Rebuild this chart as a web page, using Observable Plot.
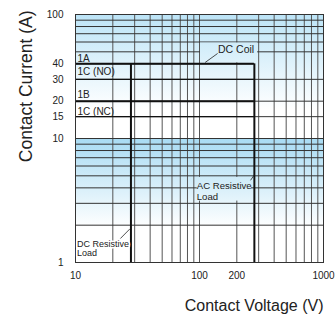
<!DOCTYPE html>
<html>
<head>
<meta charset="utf-8">
<script src="https://cdn.jsdelivr.net/npm/d3@7"></script>
<script src="https://cdn.jsdelivr.net/npm/@observablehq/plot@0.6"></script>
<style>
  html, body { margin: 0; padding: 0; background: #fff; }
</style>
</head>
<body>
<div id="chart"></div>
<script>
// ---- data ----
const xGrid = [10, 20, 30, 40, 50, 60, 70, 80, 90, 100, 200, 300, 400, 500, 600, 700, 800, 900, 1000];
const yGridFull = [100, 90, 80, 70, 60, 50, 30, 20, 15, 10, 9, 8, 7, 6, 5, 4, 3, 2, 1];
const yGridToAC = [40];
const xTicks = [10, 100, 200, 1000];
const yTicks = [1, 10, 15, 20, 30, 40, 100];

const dcResistiveV = 28;   // DC resistive load limit (V)
const acResistiveV = 277;  // AC resistive load limit (V)
const dcCoilA = 40;        // upper limit (A)
const minA = 1;

const ratingLevels = [40, 30, 20, 15];
const ratingWidths = [2, 1.4, 2, 1.4];
const ratingLabels = ["1A", "1C (NO)", "1B", "1C (NC)"];
const ratingLabelY = [44, 34.7, 22.6, 16.5];

const dcCoilText = [{x: 141, y: 52, t: "DC Coil"}];
const acText = [{x: 95, y: 4.14, t: "AC Resistive"}, {x: 95, y: 3.37, t: "Load"}];
const dcResText = [{x: 10.3, y: 1.41, t: "DC Resistive"}, {x: 10.3, y: 1.18, t: "Load"}];
const leaders = [
  {x1: 111, y1: 41, x2: 140, y2: 48.5},
  {x1: 258, y1: 4.6, x2: 277, y2: 5.1},
  {x1: 23, y1: 1.56, x2: 27.5, y2: 1.87}
];
const labelCells = [
  {x1: 100, x2: 300, y1: 40, y2: 60, f: "url(#gTop)"},
  {x1: 95, x2: 265, y1: 3.1, y2: 4.9, f: "url(#gBot)"}
];
const bands = [
  {y1: 10, y2: 100, f: "url(#gTop)"},
  {y1: 1, y2: 10, f: "url(#gBot)"}
];

const hLimits = ratingLevels.map((v, i) => ({y: v, w: ratingWidths[i]}));
const vLimits = [dcResistiveV, acResistiveV];

const plot = Plot.plot({
  width: 336,
  height: 322,
  marginLeft: 75,
  marginRight: 13,
  marginTop: 14,
  marginBottom: 60,
  style: {fontFamily: "'Liberation Sans', Arial, sans-serif", fontSize: "10px", background: "white", color: "#222"},
  x: {type: "log", domain: [10, 1000], ticks: xTicks, tickFormat: d => String(d), tickSize: 0, tickPadding: 9, label: null},
  y: {type: "log", domain: [1, 100], ticks: yTicks, tickFormat: d => String(d), tickSize: 0, tickPadding: 12, label: null},
  marks: [
    Plot.rect(bands, {x1: 10, x2: 1000, y1: "y1", y2: "y2", fill: d => d.f}),
    Plot.ruleX(xGrid, {stroke: "#555", strokeWidth: 1}),
    Plot.ruleY(yGridFull, {stroke: "#333", strokeWidth: 1}),
    Plot.ruleY(yGridToAC, {x1: 10, x2: acResistiveV, stroke: "#333", strokeWidth: 1}),
    Plot.rect(labelCells.slice(0, 1), {x1: "x1", x2: "x2", y1: "y1", y2: "y2", fill: "url(#gTop)", inset: 1}),
    Plot.rect(labelCells.slice(1), {x1: "x1", x2: "x2", y1: "y1", y2: "y2", fill: "url(#gBot)", inset: 0.5}),
    Plot.ruleY(hLimits, {y: "y", x1: 10, x2: acResistiveV, stroke: "#111", strokeWidth: d => d.w}),
    Plot.ruleX(vLimits, {y1: minA, y2: dcCoilA, stroke: "#111", strokeWidth: 2}),
    Plot.frame({stroke: "#333", strokeWidth: 1}),
    Plot.link(leaders, {x1: "x1", y1: "y1", x2: "x2", y2: "y2", stroke: "#222", strokeWidth: 0.8}),
    Plot.text(ratingLabels, {x: 10, y: (d, i) => ratingLabelY[i], text: d => d, textAnchor: "start", dx: 2, fontSize: 10, fill: "#222"}),
    Plot.text(dcCoilText, {x: "x", y: "y", text: "t", textAnchor: "start", fontSize: 10.5, fill: "#222"}),
    Plot.text(acText, {x: "x", y: "y", text: "t", textAnchor: "start", fontSize: 9.6, fill: "#222"}),
    Plot.text(dcResText, {x: "x", y: "y", text: "t", textAnchor: "start", fontSize: 9, fill: "#222", stroke: "white", strokeWidth: 3}),
    Plot.text(["Contact Current (A)"], {frameAnchor: "top-left", rotate: -90, textAnchor: "end", dx: -56, dy: -4, fontSize: 17.5, fill: "#222"}),
    Plot.text(["Contact Voltage (V)"], {frameAnchor: "bottom-right", textAnchor: "end", dy: 48, fontSize: 16, fill: "#222"})
  ]
});

// gradients (user space so every filled piece matches the background)
const ys = plot.scale("y");
const defs = d3.select(plot).insert("defs", ":first-child");
const g1 = defs.append("linearGradient").attr("id", "gTop").attr("gradientUnits", "userSpaceOnUse")
  .attr("x1", 0).attr("x2", 0).attr("y1", ys.apply(100)).attr("y2", ys.apply(17));
g1.append("stop").attr("offset", 0).attr("stop-color", "#bce4f7");
g1.append("stop").attr("offset", 1).attr("stop-color", "#ffffff");
const g2 = defs.append("linearGradient").attr("id", "gBot").attr("gradientUnits", "userSpaceOnUse")
  .attr("x1", 0).attr("x2", 0).attr("y1", ys.apply(10)).attr("y2", ys.apply(1.9));
g2.append("stop").attr("offset", 0).attr("stop-color", "#a8dbf3");
g2.append("stop").attr("offset", 1).attr("stop-color", "#ffffff");

document.getElementById("chart").appendChild(plot);
</script>
</body>
</html>
